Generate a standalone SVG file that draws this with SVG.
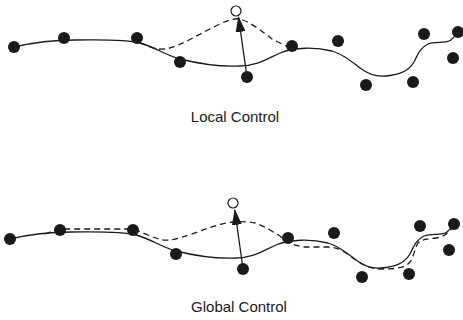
<svg xmlns="http://www.w3.org/2000/svg" width="463" height="320" viewBox="0 0 463 320">
  <style>
    .curve { fill: none; stroke: #1a1a1a; stroke-width: 1.3; }
    .dash { fill: none; stroke: #1a1a1a; stroke-width: 1.3; stroke-dasharray: 6 4; }
    .pt { fill: #1a1a1a; }
    .open { fill: #fff; stroke: #1a1a1a; stroke-width: 1.2; }
    .vec { stroke: #1a1a1a; stroke-width: 1.3; marker-end: url(#head); }
    .label { font-family: "Liberation Sans", Arial, sans-serif; font-size: 15px; fill: #1a1a1a; text-anchor: middle; }
  </style>
  <defs>
    <marker id="head" viewBox="0 0 16 10" refX="15" refY="5" markerWidth="16" markerHeight="10" markerUnits="userSpaceOnUse" orient="auto">
      <path d="M0,0 L16,5 L0,10 Z" fill="#1a1a1a"/>
    </marker>
    <path id="base-curve" d="M14,47 C35,42 55,40 75,40 C100,40 125,39 140,43 C155,47 165,55 180,59 C200,64 220,67 240,66 C258,66 268,58 280,53 C295,47 315,47 332,51 C345,55 352,62 360,68 C368,74 375,77 385,76 C398,75 408,72 414,62 C418,54 420,48 428,44 C436,41 446,44 451,40 C454,37 456,35 458,32"/>
  </defs>

  <!-- Local control: moving one point only changes the curve nearby -->
  <g id="local">
    <g id="local-connectors">
      <use href="#base-curve" class="curve"/>
      <path class="dash" d="M140,43 C148,46 155,50 165,49 C180,47 200,33 220,24 C228,20 235,18 240,19 C250,22 262,31 272,39 L290,48"/>
      <line class="vec" x1="247" y1="77" x2="238.5" y2="17"/>
    </g>
    <g id="local-points">
      <circle class="pt" cx="14" cy="47" r="6"/>
      <circle class="pt" cx="64" cy="38" r="6"/>
      <circle class="pt" cx="137" cy="38" r="6"/>
      <circle class="pt" cx="180" cy="62" r="6"/>
      <circle class="pt" cx="247" cy="77" r="6"/>
      <circle class="pt" cx="292" cy="46" r="6"/>
      <circle class="pt" cx="338" cy="41" r="6"/>
      <circle class="pt" cx="366" cy="85" r="6"/>
      <circle class="pt" cx="413" cy="82" r="6"/>
      <circle class="pt" cx="424" cy="34" r="6"/>
      <circle class="pt" cx="458" cy="32" r="6"/>
      <circle class="pt" cx="453" cy="58" r="6"/>
      <circle class="open" cx="236" cy="11" r="5"/>
    </g>
    <text class="label" x="235" y="122">Local Control</text>
  </g>

  <!-- Global control: moving one point changes the whole curve -->
  <g id="global">
    <g id="global-connectors">
      <use href="#base-curve" class="curve" transform="translate(-4,192)"/>
      <path class="dash" d="M45,234 C50,232 55,230 62,229 L128,229 C136,229 140,232 148,235 C155,238 162,241 170,240 C185,238 205,228 222,224 C232,221 245,221 255,223 C265,226 273,232 280,236 C287,243 295,246 305,247 L330,247 C342,248 348,255 356,260 C364,266 372,269 382,269 C395,269 405,268 410,262 C414,256 415,248 418,243 C422,239 428,239 436,238 C444,237 448,233 452,228"/>
      <line class="vec" x1="243" y1="269" x2="234.8" y2="210"/>
    </g>
    <g id="global-points">
      <circle class="pt" cx="10" cy="239" r="6"/>
      <circle class="pt" cx="60" cy="230" r="6"/>
      <circle class="pt" cx="133" cy="230" r="6"/>
      <circle class="pt" cx="176" cy="254" r="6"/>
      <circle class="pt" cx="243" cy="269" r="6"/>
      <circle class="pt" cx="288" cy="238" r="6"/>
      <circle class="pt" cx="334" cy="233" r="6"/>
      <circle class="pt" cx="362" cy="277" r="6"/>
      <circle class="pt" cx="409" cy="274" r="6"/>
      <circle class="pt" cx="420" cy="226" r="6"/>
      <circle class="pt" cx="454" cy="224" r="6"/>
      <circle class="pt" cx="449" cy="250" r="6"/>
      <circle class="open" cx="233" cy="203" r="5"/>
    </g>
    <text class="label" x="239" y="312">Global Control</text>
  </g>
</svg>
